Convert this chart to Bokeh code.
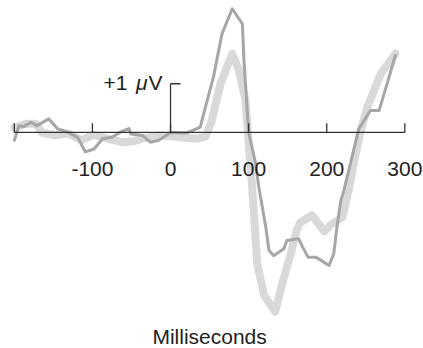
from bokeh.plotting import figure
from bokeh.models import Range1d
from bokeh.core.properties import value
from bokeh.embed import file_html
from bokeh.resources import INLINE

# Thick light-gray waveform
light_ms = [-200, -185, -172, -165, -148, -131, -114, -99, -82, -62, -47, -35, -15, 2, 17, 34, 45,
            52, 64, 79, 87, 96, 100, 104, 111, 120, 134, 143, 154, 162, 166, 181, 197, 205, 220,
            228, 235, 243, 252, 269, 288]
light_uv = [0.10, 0.18, 0.18, 0.0, -0.06, -0.02, -0.16, -0.05, -0.12, -0.20, -0.18, -0.12, -0.06, -0.08,
            -0.11, -0.13, -0.08, 0.20, 1.00, 1.62, 1.31, 0.66, -0.20, -1.00, -2.70, -3.35, -3.68, -3.10,
            -2.49, -1.98, -1.85, -1.70, -2.03, -1.90, -1.74, -1.20, -0.60, 0.0, 0.52, 1.20, 1.62]

# Thinner darker waveform
dark_ms = [-200, -194, -188, -179, -171, -156, -145, -132, -119, -109, -98, -87, -75, -64, -53, -51,
           -36, -26, -15, 0, 21, 38, 47, 55, 60, 66, 79, 92, 94, 100, 109, 113, 122, 126, 132, 145,
           149, 164, 169, 176, 186, 203, 209, 213, 218, 222, 241, 256, 267, 288]
dark_uv = [-0.16, 0.14, 0.12, 0.21, 0.14, 0.28, 0.08, 0.01, -0.10, -0.40, -0.34, -0.13, -0.10, 0.01,
           0.08, -0.03, -0.06, -0.20, -0.16, 0.0, -0.01, 0.11, 0.66, 1.14, 1.55, 2.03, 2.54, 2.23, 1.48,
           0.0, -0.64, -1.12, -1.94, -2.42, -2.53, -2.39, -2.22, -2.18, -2.35, -2.56, -2.56, -2.73,
           -2.49, -1.95, -1.40, -1.19, 0.07, 0.45, 0.45, 1.58]

tick_ms = [-200, -100, 0, 100, 200, 300]
label_ms = [-100, 0, 100, 200, 300]
label_txt = ["-100", "0", "100", "200", "300"]
x_title = "Milliseconds"
scale_uv = 1.0

FONT = value("Liberation Sans")
TXT = "#222222"
FS = "21px"

p = figure(width=423, height=348, x_range=Range1d(-217.7, 323.9), y_range=Range1d(-4.436, 2.710),
           x_axis_type=None, y_axis_type=None, toolbar_location=None, output_backend="svg",
           min_border=0)
p.outline_line_color = None
p.grid.visible = False
p.background_fill_color = "white"

# waveforms
p.line(light_ms, light_uv, line_color="#d9d9d9", line_width=8, line_join="round", line_cap="round")
p.line(dark_ms, dark_uv, line_color="#a6a6a6", line_width=3, line_join="round", line_cap="round")

# time axis
p.segment(x0=[tick_ms[0]], y0=[0], x1=[tick_ms[-1]], y1=[0], line_color="#333333", line_width=1.3)
p.segment(x0=tick_ms, y0=[0] * len(tick_ms), x1=tick_ms, y1=[0.19] * len(tick_ms),
          line_color="#333333", line_width=1.3)
p.text(x=label_ms, y=[-0.754] * len(label_ms), text=label_txt, text_align="center",
       text_baseline="middle", text_font=FONT, text_font_size=FS, text_color=TXT)
p.text(x=[50], y=[-4.19], text=[x_title], text_align="center", text_baseline="middle",
       text_font=FONT, text_font_size=FS, text_color=TXT)

# scale bar
p.segment(x0=[0, 0], y0=[0, scale_uv], x1=[0, 12.8], y1=[scale_uv, scale_uv],
          line_color="#333333", line_width=1.3)
p.text(x=[0], y=[scale_uv], text=["V"], x_offset=-8, y_offset=-1, text_align="right",
       text_baseline="middle", text_font=FONT, text_font_size=FS, text_color=TXT)
p.text(x=[0], y=[scale_uv], text=["\u03bc"], x_offset=-23, y_offset=-1, text_align="right",
       text_baseline="middle", text_font=FONT, text_font_size=FS, text_font_style="italic",
       text_color=TXT)
p.text(x=[0], y=[scale_uv], text=["+1"], x_offset=-43, y_offset=-1, text_align="right",
       text_baseline="middle", text_font=FONT, text_font_size=FS, text_color=TXT)

open("out.html", "w").write(file_html(p, INLINE))
